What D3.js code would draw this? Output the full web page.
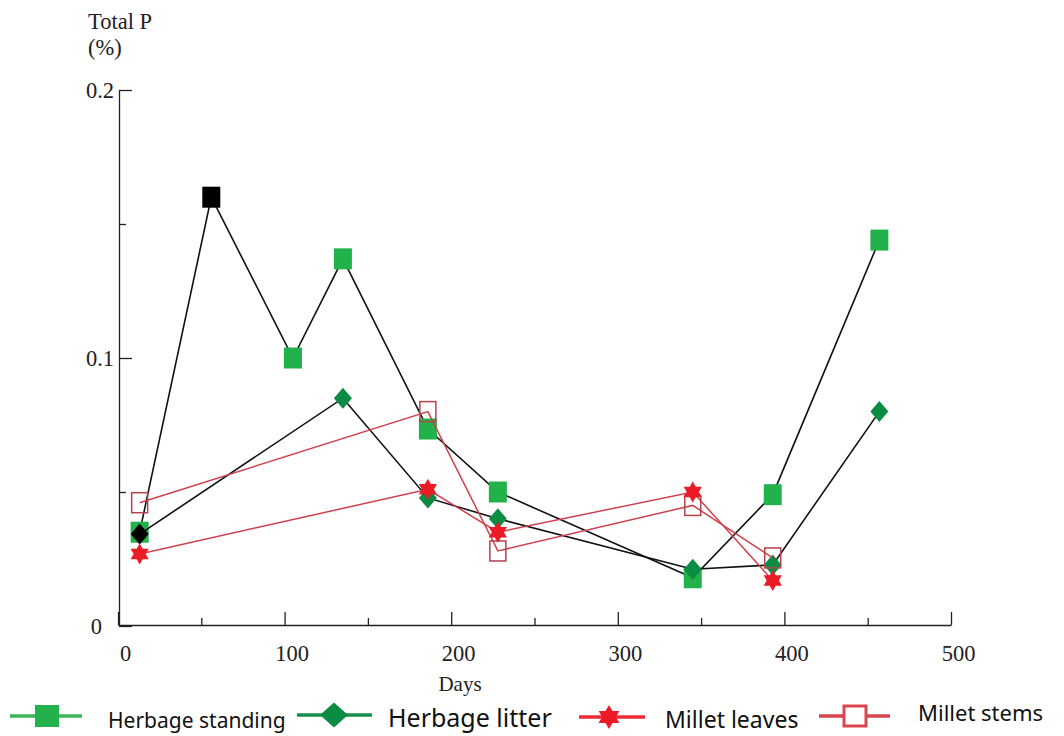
<!DOCTYPE html>
<html>
<head>
<meta charset="utf-8">
<script src="https://cdn.jsdelivr.net/npm/d3@7"></script>
<style>
  body { margin: 0; background: #fff; }
  svg { display: block; }
  .ax text { font-family: "Liberation Serif", serif; font-size: 22.5px; fill: #222; }
  .ax path, .ax line { stroke: #222; stroke-width: 1.3px; }
  .title { font-family: "Liberation Serif", serif; fill: #222; }
  .legend text { font-family: "Noto Sans", sans-serif; fill: #111; }
</style>
</head>
<body>
<svg id="chart"></svg>
<script>
// values
const standingDays = [13, 56, 105, 135, 186, 228, 345, 393, 457]
const herbageStanding = [0.035, 0.16, 0.1, 0.137, 0.0735, 0.05, 0.018, 0.049, 0.144]
const litterDays = [13, 135, 186, 228, 345, 393, 457]
const herbageLitter = [0.0343, 0.085, 0.0478, 0.04, 0.0212, 0.0228, 0.08]
const milletDays = [13, 186, 228, 345, 393]
const milletLeaves = [0.0269, 0.051, 0.035, 0.05, 0.017]
const milletStems = [0.046, 0.08, 0.028, 0.045, 0.0254]

const xTicks = [0, 100, 200, 300, 400, 500]
const xMinor = [50, 150, 250, 350, 450]
const yTicks = [0, 0.1, 0.2]
const yMinor = [0.05, 0.15]
const legendNames = ['Herbage standing', 'Herbage litter', 'Millet leaves', 'Millet stems']

const w = 1064
const h = 736

const svg = d3.select('#chart').attr('width', w).attr('height', h)

const x = d3.scaleLinear().domain([0, 500]).range([118, 951])
const y = d3.scaleLinear().domain([0, 0.2]).range([626, 90])

// six pointed star, points up/down
const star = {
  draw(ctx, size) {
    const r = Math.sqrt(size) / 2
    for (let i = 0; i < 12; i++) {
      const a = (Math.PI / 6) * i - Math.PI / 2
      const rr = i % 2 === 0 ? r : r / Math.sqrt(3)
      const px = Math.cos(a) * rr
      const py = Math.sin(a) * rr
      i === 0 ? ctx.moveTo(px, py) : ctx.lineTo(px, py)
    }
    ctx.closePath()
  },
}

function diamond(hw, hh) {
  return `M0,${-hh}L${hw},0L0,${hh}L${-hw},0Z`
}

// axes
const xAxis = svg.append('g').attr('class', 'ax').attr('transform', `translate(0,625)`)
xAxis.call(d3.axisBottom(x).tickValues(xTicks).tickSizeInner(-13).tickSizeOuter(0).tickPadding(20))
xAxis.selectAll('.tick text').attr('dx', 7)
svg.append('g').attr('class', 'ax').attr('transform', `translate(0,625)`)
  .call(d3.axisBottom(x).tickValues(xMinor).tickSizeInner(-7).tickSizeOuter(0).tickFormat(''))
  .select('.domain').remove()

const yAxis = svg.append('g').attr('class', 'ax').attr('transform', `translate(119,0)`)
yAxis.call(d3.axisLeft(y).tickValues(yTicks).tickSizeInner(-13).tickSizeOuter(0).tickPadding(5)
  .tickFormat((d) => (d === 0 ? '0' : d3.format('.1f')(d))))
yAxis.selectAll('.tick text').attr('dx', (d) => (d === 0 ? -12 : 0))
svg.append('g').attr('class', 'ax').attr('transform', `translate(119,0)`)
  .call(d3.axisLeft(y).tickValues(yMinor).tickSizeInner(-7).tickSizeOuter(0).tickFormat(''))
  .select('.domain').remove()

svg.append('text').attr('class', 'title').attr('x', 88).attr('y', 29).style('font-size', '22.5px').text('Total P')
svg.append('text').attr('class', 'title').attr('x', 88).attr('y', 55).style('font-size', '22.5px').text('(%)')
svg.append('text').attr('class', 'title').attr('x', 460).attr('y', 691).attr('text-anchor', 'middle')
  .style('font-size', '21px').text('Days')

const line = d3.line().x((d) => x(d[0])).y((d) => y(d[1]))
function pairs(days, vals) {
  return days.map((d, i) => [d, vals[i]])
}

// herbage standing
const standing = pairs(standingDays, herbageStanding)
svg.append('path').attr('d', line(standing)).attr('fill', 'none').attr('stroke', '#111').attr('stroke-width', 1.6)
svg.selectAll('.hs').data(standing).enter().append('rect')
  .attr('x', (d) => x(d[0]) - 9).attr('y', (d) => y(d[1]) - 10.5)
  .attr('width', 18).attr('height', 21)
  .attr('fill', (d, i) => (i === 1 ? '#000' : '#22b24c'))

// herbage litter
const litter = pairs(litterDays, herbageLitter)
svg.append('path').attr('d', line(litter)).attr('fill', 'none').attr('stroke', '#111').attr('stroke-width', 1.6)
svg.selectAll('.hl').data(litter).enter().append('path')
  .attr('d', diamond(9, 10.5))
  .attr('transform', (d) => `translate(${x(d[0])},${y(d[1])})`)
  .attr('fill', (d, i) => (i === 0 ? '#000' : '#0b8c45'))

// millet stems
const stems = pairs(milletDays, milletStems)
svg.append('path').attr('d', line(stems)).attr('fill', 'none').attr('stroke', '#d0404c').attr('stroke-width', 1.5)
svg.selectAll('.ms').data(stems).enter().append('rect')
  .attr('x', (d) => x(d[0]) - 8).attr('y', (d) => y(d[1]) - 10)
  .attr('width', 16).attr('height', 20)
  .attr('fill', 'none').attr('stroke', '#b5434c').attr('stroke-width', 1.5)

// millet leaves
const leaves = pairs(milletDays, milletLeaves)
svg.append('path').attr('d', line(leaves)).attr('fill', 'none').attr('stroke', '#d0404c').attr('stroke-width', 1.5)
svg.selectAll('.ml').data(leaves).enter().append('path')
  .attr('d', d3.symbol(star, 21 * 21))
  .attr('transform', (d) => `translate(${x(d[0])},${y(d[1])})`)
  .attr('fill', '#ec1c26')

// legend
const legend = svg.append('g').attr('class', 'legend')
const legItems = [
  { x0: 10, x1: 82, cx: 47, ly: 716, color: '#3db45a', tx: 108, ty: 728, fs: 21 },
  { x0: 297, x1: 372, cx: 334, ly: 715, color: '#16904a', tx: 388, ty: 727, fs: 25 },
  { x0: 579, x1: 645, cx: 609, ly: 717, color: '#ee2a32', tx: 665, ty: 728, fs: 23 },
  { x0: 819, x1: 890, cx: 855, ly: 716, color: '#d9464f', tx: 918, ty: 721, fs: 22 },
]
legItems.forEach((it, i) => {
  legend.append('line').attr('x1', it.x0).attr('x2', it.x1).attr('y1', it.ly).attr('y2', it.ly)
    .attr('stroke', it.color).attr('stroke-width', 3.5)
  if (i === 0) {
    legend.append('rect').attr('x', it.cx - 12).attr('y', it.ly - 11).attr('width', 24).attr('height', 22).attr('fill', '#22b24c')
  } else if (i === 1) {
    legend.append('path').attr('d', diamond(14, 12.5)).attr('transform', `translate(${it.cx},${it.ly})`).attr('fill', '#0b8c45')
  } else if (i === 2) {
    legend.append('path').attr('d', d3.symbol(star, 24 * 24)).attr('transform', `translate(${it.cx},${it.ly})`).attr('fill', '#ec1c26')
  } else {
    legend.append('rect').attr('x', it.cx - 11).attr('y', it.ly - 10).attr('width', 22).attr('height', 20)
      .attr('fill', '#fff').attr('stroke', '#d9464f').attr('stroke-width', 3)
  }
  legend.append('text').attr('x', it.tx).attr('y', it.ty).style('font-size', it.fs + 'px').text(legendNames[i])
})
</script>
</body>
</html>
